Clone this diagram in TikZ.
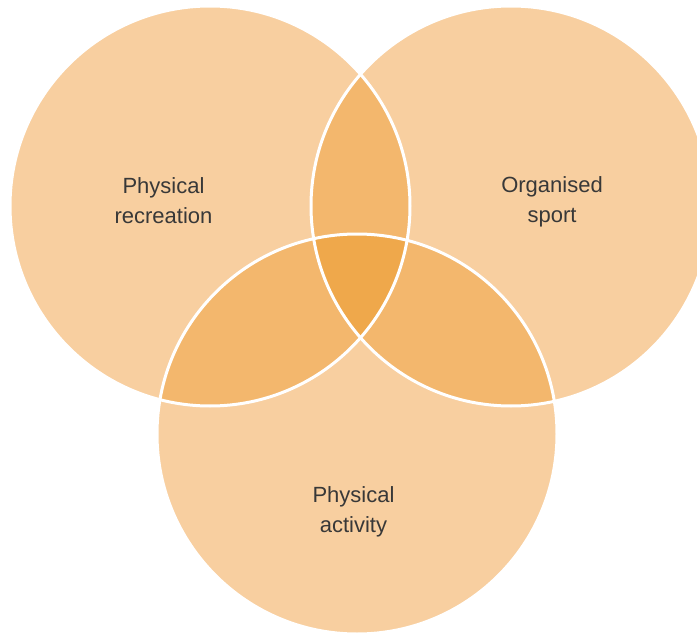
\documentclass[tikz,border=0pt]{standalone}
\usepackage{fontspec}
\setmainfont{Liberation Sans}
\definecolor{melocoton}{HTML}{F8CFA0}
\definecolor{albaricoque}{HTML}{F3B76D}
\definecolor{ambar}{HTML}{EFA84B}
\definecolor{tinta}{HTML}{383838}
\tikzset{
  zona/.style={fill=melocoton},
  doble/.style={fill=albaricoque},
  triple/.style={fill=ambar},
  borde/.style={draw=white,line width=3pt},
  etiqueta/.style={align=center,text=tinta,inner sep=0pt,font=\fontsize{22}{30}\selectfont},
}
\begin{document}
\begin{tikzpicture}[x=1pt,y=-1pt]
\useasboundingbox[fill=white] (0,0) rectangle (697,634);
\coordinate (recreo) at (210,206);
\coordinate (deporte) at (511,206);
\coordinate (actividad) at (357,434);
\fill[zona] (recreo) circle[radius=200pt];
\fill[zona] (deporte) circle[radius=200pt];
\fill[zona] (actividad) circle[radius=200pt];
\begin{scope}
  \clip (recreo) circle[radius=200pt];
  \fill[doble] (deporte) circle[radius=200pt];
  \fill[doble] (actividad) circle[radius=200pt];
\end{scope}
\begin{scope}
  \clip (deporte) circle[radius=200pt];
  \fill[doble] (actividad) circle[radius=200pt];
\end{scope}
\begin{scope}
  \clip (recreo) circle[radius=200pt];
  \clip (deporte) circle[radius=200pt];
  \fill[triple] (actividad) circle[radius=200pt];
\end{scope}
\draw[borde] (recreo) circle[radius=200pt];
\draw[borde] (deporte) circle[radius=200pt];
\draw[borde] (actividad) circle[radius=200pt];
\node[etiqueta] (txtrecreo) at (163.5,201) {Physical\\recreation};
\node[etiqueta] (txtdeporte) at (552,202) {Organised\\sport};
\node[etiqueta] (txtactividad) at (353.5,512) {Physical\\activity};
\end{tikzpicture}
\end{document}
